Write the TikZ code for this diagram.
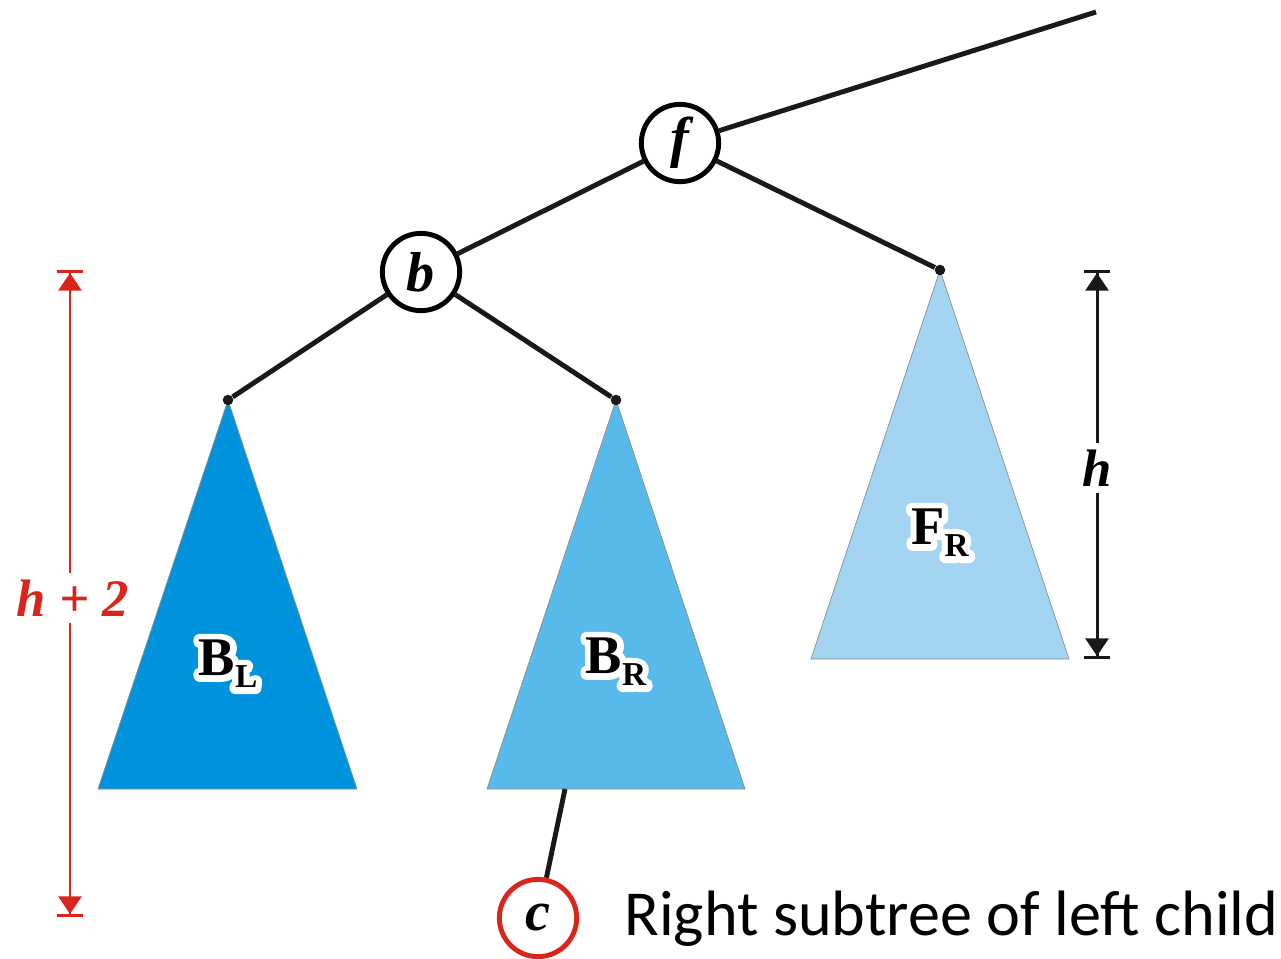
\documentclass[tikz,border=0pt]{standalone}
\usepackage{fontspec}
\setmainfont{Liberation Serif}
\newfontfamily\captionfont{Carlito}
\usetikzlibrary{arrows.meta, calc}
\definecolor{dimred}{RGB}{218,37,29}
\definecolor{bleft}{RGB}{0,147,221}
\definecolor{bright}{RGB}{88,186,235}
\definecolor{fright}{RGB}{163,213,243}
\tikzstyle{edge} = [line width=2.8pt, black!90]
\tikzstyle{treenode} = [circle, draw, line width=2.8pt, fill=white, minimum size=44pt, inner sep=0pt, font=\fontsize{32}{32}\selectfont\bfseries\itshape]
\tikzstyle{leaf} = [circle, fill=black!90, inner sep=0pt, minimum size=6pt]
\tikzstyle{subtree} = [draw=black!45, line width=0.4pt]
\tikzstyle{treelabel} = [font=\fontsize{31}{31}\selectfont\bfseries, inner sep=0pt]
\tikzstyle{dimline} = [line width=1.7pt, {Bar[width=15pt,line width=1.7pt]Triangle[width=13pt,length=10pt]}-{Triangle[width=13pt,length=10pt]Bar[width=15pt,line width=1.7pt]}]
\tikzstyle{dimlabel} = [fill=white, inner xsep=1pt, inner ysep=4pt, font=\fontsize{30}{30}\selectfont\bfseries\itshape]
\newcommand{\sub}[1]{{\fontsize{19}{19}\selectfont\raisebox{-7pt}{#1}}}
% white outline under the subtree names
\newcommand{\halo}[1]{\special{pdf:literal direct 2 Tr 7 w 1 j}#1\special{pdf:literal direct 0 Tr}}
\newcommand{\halolabel}[3]{%
  \node[treelabel, text=white] at (#2) {\halo{#3}};
  \node[treelabel] (#1) at (#2) {#3};}

\begin{document}
\begin{tikzpicture}[x=0.02cm, y=-0.02cm]
    \useasboundingbox (0,0) rectangle (1281,958);

    % Subtrees
    \filldraw [subtree, fill=bleft]  (228,400) -- (98,789) -- (357,789) -- cycle;
    \filldraw [subtree, fill=bright] (616,400) -- (487,789) -- (745,789) -- cycle;
    \filldraw [subtree, fill=fright] (940,270) -- (811,659) -- (1069,659) -- cycle;

    % Nodes
    \node (f) [treenode] at (680,143) {f};
    \node (b) [treenode] at (421,272) {b};
    \node (c) [treenode, draw=dimred] at (538,918) {c};
    \node (bl) [leaf] at (228,400) {};
    \node (br) [leaf] at (616,400) {};
    \node (fr) [leaf] at (940,270) {};
    \coordinate (top) at (1096,12);
    \coordinate (brbase) at (565,789);

    % Edges
    \draw [edge] (f) -- (top);
    \draw [edge] (f) -- (b);
    \draw [edge] (f) -- (fr);
    \draw [edge] (b) -- (bl);
    \draw [edge] (b) -- (br);
    \draw [edge] (brbase) -- (c);

    % Subtree labels
    \halolabel{lbl}{228,664}{B\sub{L}}
    \halolabel{lbr}{616,662}{B\sub{R}}
    \halolabel{lfr}{940,533}{F\sub{R}}

    % Heights
    \coordinate (rtop) at (70,270);
    \coordinate (rbot) at (70,917);
    \coordinate (ktop) at (1097,270);
    \coordinate (kbot) at (1097,659);
    \draw [dimline, dimred] (rtop) -- (rbot);
    \draw [dimline, black!90] (ktop) -- (kbot);
    \node (hh) [dimlabel, text=dimred] at (73,598) {h + 2};
    \node (h) [dimlabel] at (1097,468) {h};

    % Caption
    \node (cap) [anchor=west, inner sep=0pt, font=\captionfont\fontsize{36.5}{36.5}\selectfont] at (624,919) {Right subtree of left child};
\end{tikzpicture}
\end{document}
